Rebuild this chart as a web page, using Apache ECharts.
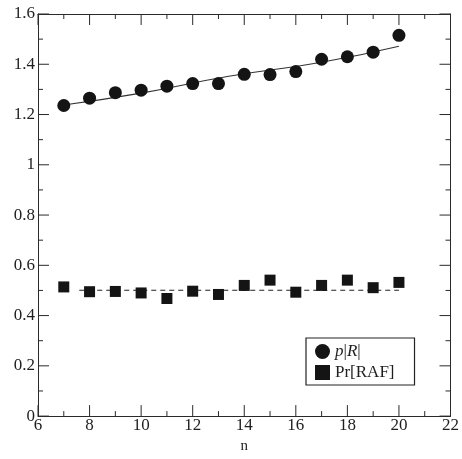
<!DOCTYPE html>
<html><head><meta charset="utf-8">
<script src="https://cdn.jsdelivr.net/npm/echarts@6/dist/echarts.min.js"></script>
<style>html,body{margin:0;padding:0;background:#fff}#c{width:462px;height:459px}</style>
</head><body><div id="c"></div>
<script>
const nValues = [7, 8, 9, 10, 11, 12, 13, 14, 15, 16, 17, 18, 19, 20];
const pR = [1.236, 1.265, 1.287, 1.297, 1.313, 1.323, 1.323, 1.360, 1.359, 1.371, 1.420, 1.430, 1.448, 1.515];
const prRAF = [0.514, 0.495, 0.496, 0.490, 0.468, 0.497, 0.484, 0.520, 0.541, 0.493, 0.520, 0.541, 0.511, 0.532];
const fitN = [7, 10, 13.4, 17, 20];
const fitPR = [1.238, 1.285, 1.352, 1.408, 1.472];
const fitRAFN = [7.6, 20];
const fitRAF = [0.501, 0.501];
const xTicks = [6, 8, 10, 12, 14, 16, 18, 20, 22];
const yTicks = [0, 0.2, 0.4, 0.6, 0.8, 1, 1.2, 1.4, 1.6];
const xMinorTicks = [7, 9, 11, 13, 15, 17, 19, 21];
const yMinorTicks = [0.1, 0.3, 0.5, 0.7, 0.9, 1.1, 1.3, 1.5];

const font = '"Liberation Serif", "DejaVu Serif", serif';
const axColor = '#2a2a2a';
const txtColor = '#1e1e1e';
const xMin = xTicks[0], xMax = xTicks[xTicks.length - 1];
const yMin = yTicks[0], yMax = yTicks[yTicks.length - 1];
function xAxisCfg(pos, showLabel) {
  return {
    type: 'value', position: pos, min: xMin, max: xMax, interval: 2,
    name: showLabel ? 'n' : '', nameLocation: 'middle', nameGap: 20,
    nameTextStyle: { fontFamily: font, fontSize: 15, color: txtColor },
    axisLine: { show: true, onZero: false, lineStyle: { color: axColor, width: 1 } },
    axisTick: { show: false },
    minorTick: { show: false },
    axisLabel: { show: showLabel, fontFamily: font, fontSize: 17, color: txtColor, margin: 1 },
    splitLine: { show: false }
  };
}
function yAxisCfg(pos, showLabel) {
  return {
    type: 'value', position: pos, min: yMin, max: yMax, interval: 0.2,
    axisLine: { show: true, onZero: false, lineStyle: { color: axColor, width: 1 } },
    axisTick: { show: false },
    minorTick: { show: false },
    axisLabel: { show: showLabel, fontFamily: font, fontSize: 17, color: txtColor, margin: 3 },
    splitLine: { show: false }
  };
}
function tickSeries(isX, values, len) {
  return {
    name: (isX ? 'xt' : 'yt') + len, type: 'custom', silent: true, clip: false, z: 5,
    data: values.map(v => isX ? [v, yMin] : [xMin, v]),
    renderItem: function (params, api) {
      const v = api.value(isX ? 0 : 1);
      let a, b;
      if (isX) { a = api.coord([v, yMin]); b = api.coord([v, yMax]); }
      else { a = api.coord([xMin, v]); b = api.coord([xMax, v]); }
      const st = { stroke: axColor, lineWidth: 1 };
      return { type: 'group', children: isX ? [
        { type: 'line', shape: { x1: a[0], y1: a[1], x2: a[0], y2: a[1] - len }, style: st },
        { type: 'line', shape: { x1: b[0], y1: b[1], x2: b[0], y2: b[1] + len }, style: st }
      ] : [
        { type: 'line', shape: { x1: a[0], y1: a[1], x2: a[0] + len, y2: a[1] }, style: st },
        { type: 'line', shape: { x1: b[0], y1: b[1], x2: b[0] - len, y2: b[1] }, style: st }
      ] };
    }
  };
}
const chart = echarts.init(document.getElementById('c'));
chart.setOption({
  animation: false,
  backgroundColor: '#fff',
  grid: { left: 38, right: 8, top: 14, bottom: 31, containLabel: false },
  xAxis: [xAxisCfg('bottom', true), xAxisCfg('top', false)],
  yAxis: [yAxisCfg('left', true), yAxisCfg('right', false)],
  legend: {
    data: ['pR', 'Pr[RAF]'], orient: 'vertical', left: 306, top: 338,
    width: 105, borderColor: '#222', borderWidth: 1.2, borderRadius: 0,
    padding: [5, 20, 4, 9], itemGap: 4, itemWidth: 15, itemHeight: 15,
    textStyle: {
      fontFamily: font, fontSize: 17, color: txtColor,
      rich: { i: { fontFamily: font, fontStyle: 'italic', fontSize: 17, color: txtColor }, n: { fontFamily: font, fontSize: 17, color: txtColor } }
    },
    formatter: function (name) { return name === 'pR' ? '{i|p}{n||}{i|R}{n||}' : name; }
  },
  series: [
    tickSeries(true, xTicks, 11),
    tickSeries(false, yTicks, 11),
    tickSeries(true, xMinorTicks, 5),
    tickSeries(false, yMinorTicks, 5),
    { name: 'fit1', type: 'line', data: fitN.map((x, i) => [x, fitPR[i]]), smooth: true, showSymbol: false, symbol: 'none',
      lineStyle: { color: '#333', width: 1.1 }, z: 1, silent: true },
    { name: 'fit2', type: 'line', data: fitRAFN.map((x, i) => [x, fitRAF[i]]), showSymbol: false, symbol: 'none',
      lineStyle: { color: '#222', width: 1.1, type: [5, 4] }, z: 1, silent: true },
    { name: 'pR', type: 'scatter', data: nValues.map((x, i) => [x, pR[i]]), symbol: 'circle', symbolSize: 13,
      itemStyle: { color: '#141414', opacity: 1 }, z: 3 },
    { name: 'Pr[RAF]', type: 'scatter', data: nValues.map((x, i) => [x, prRAF[i]]), symbol: 'rect', symbolSize: 11,
      itemStyle: { color: '#141414', opacity: 1 }, z: 3 }
  ]
});
</script></body></html>
